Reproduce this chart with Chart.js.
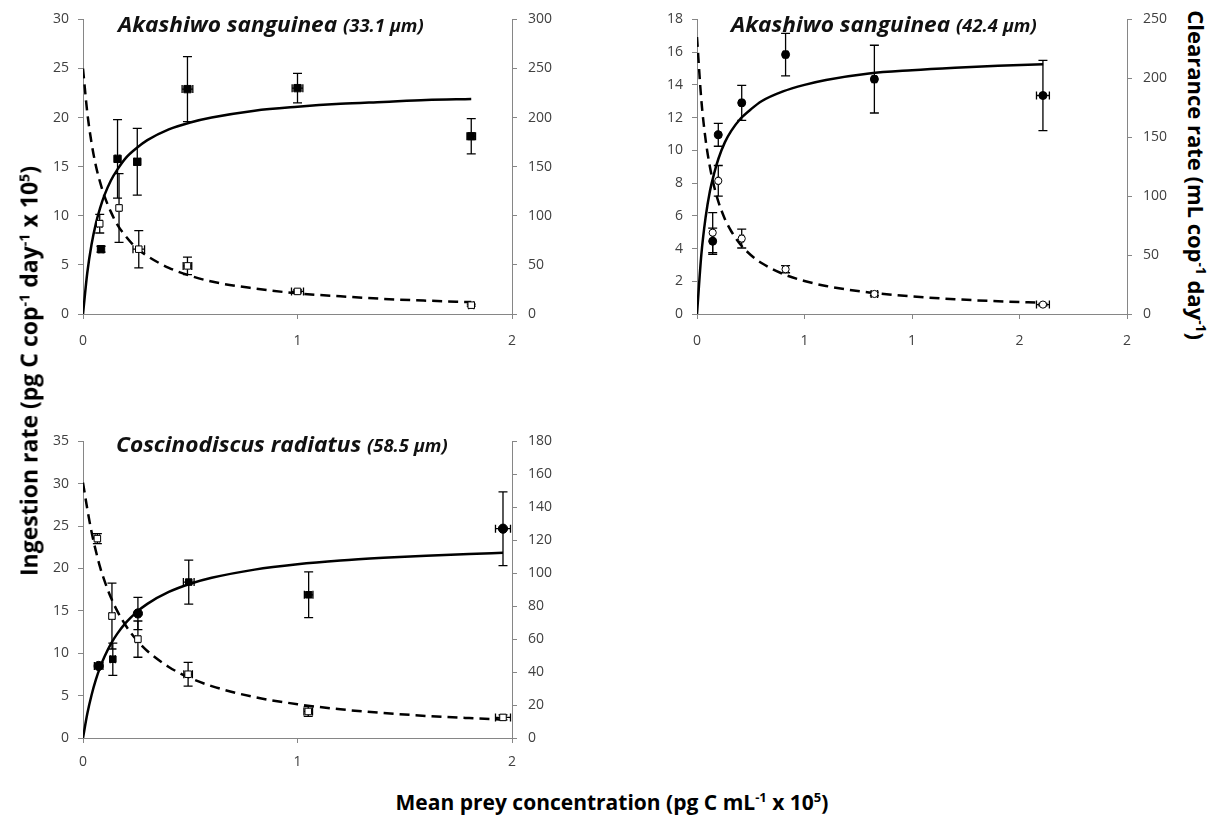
<!DOCTYPE html>
<html>
<head>
<meta charset="utf-8">
<script src="https://cdn.jsdelivr.net/npm/chart.js@4.4.0/dist/chart.umd.min.js"></script>
<style>
  body { margin: 0; background: #fff; }
  #page { position: relative; width: 1222px; height: 823px; overflow: hidden; font-family: 'Open Sans', sans-serif; background: #fff; }
  canvas { position: absolute; }
  .ttl { position: absolute; font-weight: bold; color: #000; white-space: nowrap; line-height: 1; }
  .ttl sup { font-size: 0.62em; line-height: 0; vertical-align: 0.55em; }
  #yLeft { left: 29px; top: 371px; font-size: 23px; transform: translate(-50%, -50%) rotate(-90deg); }
  #yRight { left: 1197px; top: 175px; font-size: 22px; transform: translate(-50%, -50%) rotate(90deg); }
  #xTitle { left: 612px; top: 802px; font-size: 21px; transform: translate(-50%, -50%); }
</style>
</head>
<body>
<div id="page">
  <canvas id="cTL" width="519" height="360" style="left:43px;top:0px"></canvas>
  <canvas id="cTR" width="520" height="360" style="left:657px;top:0px"></canvas>
  <canvas id="cBL" width="519" height="362" style="left:43px;top:422px"></canvas>
  <div class="ttl" id="yLeft">Ingestion rate (pg C cop<sup>-1</sup> day<sup>-1</sup> x 10<sup>5</sup>)</div>
  <div class="ttl" id="yRight">Clearance rate (mL cop<sup>-1</sup> day<sup>-1</sup>)</div>
  <div class="ttl" id="xTitle">Mean prey concentration (pg C mL<sup>-1</sup> x 10<sup>5</sup>)</div>
</div>
<script>
// top-left: Akashiwo sanguinea (33.1 um)
const tlIngX = [0.084, 0.161, 0.253, 0.487, 1.0, 1.81];
const tlIng = [6.6, 15.8, 15.5, 22.9, 23.0, 18.1];
const tlIngErr = [0.3, 4.0, 3.4, 3.3, 1.5, 1.8];
const tlIngErrX = [0.01, 0.01, 0.015, 0.025, 0.025, 0.02];
const tlClrX = [0.078, 0.168, 0.26, 0.487, 1.0, 1.81];
const tlClr = [92, 108, 66, 49, 23, 9];
const tlClrErr = [9.5, 35, 19, 9, 1.5, 1];
const tlClrErrX = [0.01, 0.008, 0.027, 0.02, 0.028, 0.012];
const tlCurveX = [0, 0.02, 0.04, 0.06, 0.08, 0.1, 0.13, 0.16, 0.2, 0.25, 0.3, 0.4, 0.5, 0.6, 0.8, 1.0, 1.2, 1.4, 1.6, 1.81];
const tlIngFit = [0, 4.2, 7.1, 9.2, 10.8, 12.1, 13.6, 14.7, 15.9, 16.9, 17.7, 18.8, 19.5, 20.0, 20.7, 21.1, 21.4, 21.6, 21.8, 21.9];
const tlClrFit = [250, 205, 174, 151, 134, 120, 104, 91, 79, 67, 59, 47, 39, 33, 26, 21, 18, 15.4, 13.6, 12.1];
const tlLeftTicks = [0, 5, 10, 15, 20, 25, 30];
const tlRightTicks = [0, 50, 100, 150, 200, 250, 300];
const tlXTicks = [0, 1, 2];

// top-right: Akashiwo sanguinea (42.4 um)
const trIngX = [0.073, 0.099, 0.208, 0.412, 0.825, 1.609];
const trIng = [4.45, 10.95, 12.9, 15.85, 14.35, 13.35];
const trIngErr = [0.8, 0.7, 1.07, 1.3, 2.07, 2.15];
const trIngErrX = [0.005, 0.005, 0.008, 0.01, 0.01, 0.03];
const trClrX = [0.073, 0.099, 0.208, 0.412, 0.825, 1.609];
const trClr = [69, 113, 64, 38, 17, 8];
const trClrErr = [17, 13, 8, 3, 1.5, 1];
const trClrErrX = [0.005, 0.005, 0.008, 0.01, 0.015, 0.03];
const trCurveX = [0, 0.02, 0.04, 0.06, 0.08, 0.1, 0.13, 0.16, 0.2, 0.25, 0.3, 0.4, 0.5, 0.6, 0.8, 1.0, 1.2, 1.4, 1.61];
const trIngFit = [0, 3.6, 5.9, 7.5, 8.6, 9.5, 10.5, 11.2, 11.9, 12.5, 13.0, 13.6, 14.0, 14.3, 14.7, 14.9, 15.05, 15.17, 15.26];
const trClrFit = [235, 182, 148, 125, 108, 95, 80.5, 70, 59.4, 50.1, 43.3, 34, 28, 23.8, 18.3, 14.9, 12.5, 10.8, 9.5];
const trLeftTicks = [0, 2, 4, 6, 8, 10, 12, 14, 16, 18];
const trRightTicks = [0, 50, 100, 150, 200, 250];
const trXTicks = [0, 0.5, 1, 1.5, 2];
const trXLabels = ['0', '1', '1', '2', '2'];

// bottom-left: Coscinodiscus radiatus (58.5 um)
const blIngX = [0.073, 0.139, 0.256, 0.493, 1.052, 1.958];
const blIng = [8.5, 9.3, 14.7, 18.4, 16.9, 24.7];
const blIngErr = [0.2, 1.9, 1.9, 2.6, 2.7, 4.35];
const blIngErrX = [0.02, 0.012, 0.01, 0.025, 0.02, 0.035];
const blClrX = [0.067, 0.135, 0.256, 0.49, 1.05, 1.958];
const blClr = [121, 74, 60, 38.7, 16.1, 12.5];
const blClrErr = [3, 20, 11, 7.2, 3, 1.5];
const blClrErrX = [0.01, 0.012, 0.01, 0.02, 0.02, 0.035];
const blCurveX = [0, 0.02, 0.04, 0.06, 0.08, 0.1, 0.13, 0.16, 0.2, 0.25, 0.3, 0.4, 0.5, 0.6, 0.8, 1.0, 1.2, 1.4, 1.6, 1.8, 1.958];
const blIngFit = [0, 2.85, 5.08, 6.88, 8.36, 9.59, 11.11, 12.32, 13.62, 14.86, 15.83, 17.23, 18.2, 18.9, 19.87, 20.5, 20.94, 21.26, 21.52, 21.72, 21.85];
const blClrFit = [155, 139, 125, 113.5, 103.5, 95.5, 85.2, 77, 68.1, 59.5, 52.8, 43.1, 36.4, 31.5, 24.8, 20.5, 17.4, 15.2, 13.4, 12.1, 11.2];
const blLeftTicks = [0, 5, 10, 15, 20, 25, 30, 35];
const blRightTicks = [0, 20, 40, 60, 80, 100, 120, 140, 160, 180];
const blXTicks = [0, 1, 2];

const AXIS = '#868686';
const TICKTXT = '#404040';
const FONT = 'Open Sans';

// error bars under the markers
const errorBars = {
  id: 'errorBars',
  beforeDatasetsDraw(chart) {
    const ctx = chart.ctx;
    const xs = chart.scales.x;
    chart.data.datasets.forEach(ds => {
      if (!ds.errY) return;
      const ys = chart.scales[ds.yAxisID];
      ctx.save();
      ctx.strokeStyle = '#000';
      ctx.lineWidth = 1.3;
      ds.data.forEach((p, i) => {
        const px = xs.getPixelForValue(p.x), py = ys.getPixelForValue(p.y);
        const t = ys.getPixelForValue(p.y + ds.errY[i]);
        const b = ys.getPixelForValue(p.y - ds.errY[i]);
        const l = xs.getPixelForValue(p.x - ds.errX[i]);
        const r = xs.getPixelForValue(p.x + ds.errX[i]);
        ctx.beginPath();
        ctx.moveTo(px, t); ctx.lineTo(px, b);
        ctx.moveTo(px - 4.5, t); ctx.lineTo(px + 4.5, t);
        ctx.moveTo(px - 4.5, b); ctx.lineTo(px + 4.5, b);
        ctx.moveTo(l, py); ctx.lineTo(r, py);
        ctx.moveTo(l, py - 4); ctx.lineTo(l, py + 4);
        ctx.moveTo(r, py - 4); ctx.lineTo(r, py + 4);
        ctx.stroke();
      });
      ctx.restore();
    });
  }
};

// species name inside the plot, with the size in smaller type
const panelTitle = {
  id: 'panelTitle',
  afterDraw(chart, args, opts) {
    const ctx = chart.ctx;
    ctx.save();
    ctx.translate(opts.x, opts.y);
    ctx.scale(1.08, 1);
    ctx.fillStyle = '#111';
    ctx.textBaseline = 'alphabetic';
    ctx.font = 'italic bold 21px "' + FONT + '"';
    ctx.fillText(opts.main, 0, 0);
    const w = ctx.measureText(opts.main + ' ').width;
    ctx.font = 'italic bold 17px "' + FONT + '"';
    ctx.fillText(opts.sub, w, 0);
    ctx.restore();
  }
};

function yAxis(ticks, side, width) {
  return {
    type: 'linear',
    position: side,
    min: ticks[0],
    max: ticks[ticks.length - 1],
    afterBuildTicks: s => { s.ticks = ticks.map(v => ({ value: v })); },
    afterFit: s => { s.width = width; },
    grid: { drawOnChartArea: false, drawTicks: true, tickLength: 5, color: AXIS },
    border: { display: true, color: AXIS, width: 1 },
    ticks: { color: TICKTXT, font: { family: FONT, size: 14 }, padding: side === 'left' ? 9 : 11 }
  };
}

function makePanel(id, o) {
  const pts = (xs, ys) => xs.map((x, i) => ({ x: x, y: ys[i] }));
  new Chart(document.getElementById(id), {
    type: 'scatter',
    data: {
      datasets: [
        { data: pts(o.curveX, o.ingFit), yAxisID: 'y', showLine: true, borderColor: '#000', borderWidth: 2.5,
          pointRadius: 0, cubicInterpolationMode: 'monotone', order: 3 },
        { data: pts(o.curveX, o.clrFit), yAxisID: 'y2', showLine: true, borderColor: '#000', borderWidth: 2.5,
          borderDash: [10, 6], pointRadius: 0, cubicInterpolationMode: 'monotone', order: 3 },
        { data: pts(o.clrX, o.clr), yAxisID: 'y2', errY: o.clrErr, errX: o.clrErrX, pointStyle: o.openStyle,
          pointRadius: o.openStyle === 'circle' ? 3.6 : 4.6, backgroundColor: '#fff', borderColor: '#000', borderWidth: 1, order: 2 },
        { data: pts(o.ingX, o.ing), yAxisID: 'y', errY: o.ingErr, errX: o.ingErrX, pointStyle: o.fillStyle,
          pointRadius: o.fillRadius, backgroundColor: '#000', borderColor: '#000', borderWidth: 1, order: 1 }
      ]
    },
    options: {
      responsive: false,
      animation: false,
      devicePixelRatio: 1,
      layout: { padding: { top: o.padTop, left: 0, right: 0, bottom: 0 } },
      plugins: {
        legend: { display: false },
        tooltip: { enabled: false },
        panelTitle: o.title
      },
      scales: {
        x: {
          type: 'linear',
          min: o.xTicks[0],
          max: o.xTicks[o.xTicks.length - 1],
          afterBuildTicks: s => { s.ticks = o.xTicks.map(v => ({ value: v })); },
          afterFit: s => { s.height = 46; },
          grid: { drawOnChartArea: false, drawTicks: true, tickLength: 5, color: AXIS },
          border: { display: true, color: AXIS, width: 1 },
          ticks: { color: TICKTXT, font: { family: FONT, size: 14 }, padding: o.xPad, maxRotation: 0,
            callback: (v, i) => o.xLabels ? o.xLabels[i] : String(v) }
        },
        y: yAxis(o.leftTicks, 'left', 40),
        y2: yAxis(o.rightTicks, 'right', 50)
      }
    },
    plugins: [errorBars, panelTitle]
  });
}

makePanel('cTL', {
  ingX: tlIngX, ing: tlIng, ingErr: tlIngErr, ingErrX: tlIngErrX,
  clrX: tlClrX, clr: tlClr, clrErr: tlClrErr, clrErrX: tlClrErrX,
  curveX: tlCurveX, ingFit: tlIngFit, clrFit: tlClrFit,
  leftTicks: tlLeftTicks, rightTicks: tlRightTicks, xTicks: tlXTicks,
  fillStyle: 'rect', fillRadius: 5.2, openStyle: 'rect', padTop: 13, xPad: 14,
  title: { main: 'Akashiwo sanguinea', sub: '(33.1 \u00b5m)', x: 75, y: 32 }
});

makePanel('cTR', {
  ingX: trIngX, ing: trIng, ingErr: trIngErr, ingErrX: trIngErrX,
  clrX: trClrX, clr: trClr, clrErr: trClrErr, clrErrX: trClrErrX,
  curveX: trCurveX, ingFit: trIngFit, clrFit: trClrFit,
  leftTicks: trLeftTicks, rightTicks: trRightTicks, xTicks: trXTicks, xLabels: trXLabels,
  fillStyle: 'circle', fillRadius: 4, openStyle: 'circle', padTop: 14, xPad: 14,
  title: { main: 'Akashiwo sanguinea', sub: '(42.4 \u00b5m)', x: 74, y: 32 }
});

makePanel('cBL', {
  ingX: blIngX, ing: blIng, ingErr: blIngErr, ingErrX: blIngErrX,
  clrX: blClrX, clr: blClr, clrErr: blClrErr, clrErrX: blClrErrX,
  curveX: blCurveX, ingFit: blIngFit, clrFit: blClrFit,
  leftTicks: blLeftTicks, rightTicks: blRightTicks, xTicks: blXTicks,
  fillStyle: ['circle', 'rect', 'circle', 'rect', 'rect', 'circle'], fillRadius: 4.6, openStyle: 'rect', padTop: 14, xPad: 11,
  title: { main: 'Coscinodiscus radiatus', sub: '(58.5 \u00b5m)', x: 73, y: 30 }
});
</script>
</body>
</html>
